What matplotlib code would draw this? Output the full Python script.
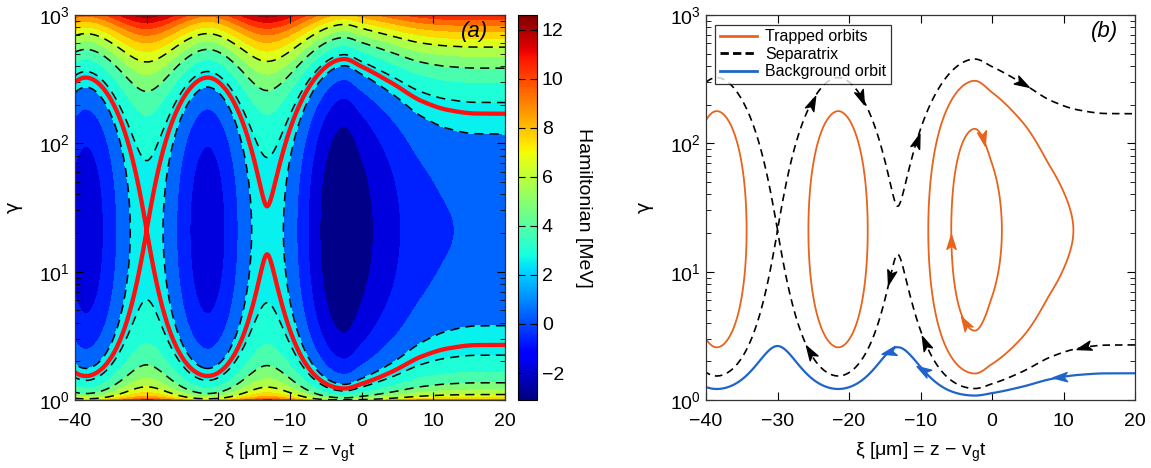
"""
Hamiltonian phase space of a wakefield bucket: (a) filled contours, (b) orbits
"""

import numpy as np
import matplotlib.pyplot as plt
from matplotlib.colors import Normalize
from matplotlib.cm import ScalarMappable
from matplotlib.markers import MarkerStyle
from matplotlib.path import Path
from matplotlib.transforms import Affine2D

plt.rcParams['font.family'] = ['Liberation Sans', 'DejaVu Sans']
plt.rcParams['mathtext.fontset'] = 'custom'
plt.rcParams['mathtext.rm'] = 'Liberation Sans'
plt.rcParams['mathtext.it'] = 'Liberation Sans:italic'

# ---- model values ----
gamma_p = 21.0              # wake phase Lorentz factor (X-points)
energy_scale = 10.0         # MeV per unit of normalised Hamiltonian
energy_offset = -0.38       # MeV
# wake potential (normalised) at its extrema / along the driver ramp
xi_knots = [-46.5, -38.5, -30.0, -21.5, -13.2, -2.4, 0.0, 4.0, 8.3, 12.0, 16.0, 25.0]
psi_knots = [-0.148, 0.175, -0.148, 0.175, -0.1435, 0.32, 0.255, 0.146, 0.05, 0.014, 0.001, 0.0]
xi_saddle = -30.0

fill_levels = [-4, -2, -1, 0, 1, 2, 3, 4, 5, 6, 7, 8, 9, 10, 11, 12, 13]
# position in the jet colour map of each filled band
band_fracs = [0.01, 0.085, 0.16, 0.225, 0.36, 0.39, 0.44, 0.5, 0.56, 0.62,
              0.68, 0.74, 0.80, 0.86, 0.92, 0.975]
dashed_levels = [1, 2, 4, 6]
trapped_levels = [-2.07, -0.08]
background_level = 3.1
cbar_range = (-3.1, 12.6)
cbar_ticks = [-2, 0, 2, 4, 6, 8, 10, 12]

# arrow heads: (curve, xi, gamma near the arrow)
arrows = [
    ('sep', -26.2, 172), ('sep', -17.1, 172), ('sep', -11.0, 112), ('sep', 5.0, 270),
    ('sep', -25.5, 2.16), ('sep', -14.5, 8.3), ('sep', -10.1, 2.83), ('sep', 13.4, 2.7),
    ('trap', -0.7, 106), ('trap', -6.6, 21), ('trap', -3.8, 3.7),
    ('bg', -15.2, 2.24), ('bg', -9.8, 1.57), ('bg', 10.9, 1.62),
]

orange = '#e8631c'
blue = '#1f65c9'


def pchip(xk, yk, x):
    xk = np.asarray(xk, float)
    yk = np.asarray(yk, float)
    h = np.diff(xk)
    d = np.diff(yk) / h
    m = np.zeros_like(yk)
    for i in range(1, len(xk) - 1):
        if d[i - 1] * d[i] > 0:
            w1 = 2 * h[i] + h[i - 1]
            w2 = h[i] + 2 * h[i - 1]
            m[i] = (w1 + w2) / (w1 / d[i - 1] + w2 / d[i])
    x = np.clip(x, xk[0], xk[-1])
    i = np.clip(np.searchsorted(xk, x) - 1, 0, len(h) - 1)
    t = (x - xk[i]) / h[i]
    return ((2 * t**3 - 3 * t**2 + 1) * yk[i] + (t**3 - 2 * t**2 + t) * h[i] * m[i]
            + (-2 * t**3 + 3 * t**2) * yk[i + 1] + (t**3 - t**2) * h[i] * m[i + 1])


beta_p = np.sqrt(1 - 1 / gamma_p**2)


def hamiltonian(xi, gam):
    kin = gam - beta_p * np.sqrt(gam**2 - 1)
    return energy_scale * (kin - pchip(xi_knots, psi_knots, xi)) + energy_offset


# separatrix: the contour through the X-point
separatrix_level = float(hamiltonian(np.array(xi_saddle), np.array(gamma_p)))

xi = np.linspace(-40, 20, 601)
gam = np.unique(np.concatenate([np.logspace(0, 3, 700), [gamma_p]]))
XI, G = np.meshgrid(xi, gam)
H = hamiltonian(XI, G)

fig = plt.figure(figsize=(11.51, 4.68), dpi=100)
W, Hf = 1151, 468
ax1 = fig.add_axes([75 / W, 1 - 400 / Hf, 430 / W, 385 / Hf])
cax = fig.add_axes([518 / W, 1 - 400 / Hf, 19 / W, 385 / Hf])
ax2 = fig.add_axes([706 / W, 1 - 400 / Hf, 429 / W, 385 / Hf])

norm = Normalize(*cbar_range)
cmap = plt.get_cmap('jet')

# ============ (a) ============
ax1.contourf(XI, G, H, levels=fill_levels, colors=[cmap(f) for f in band_fracs])
ax1.contour(XI, G, H, levels=dashed_levels, colors='k', linewidths=1.1,
            linestyles=[(0, (6, 4))])
ax1.contour(XI, G, H, levels=[separatrix_level], colors='#ff1010', linewidths=3.1)
ax1.text(0.96, 0.985, '(a)', transform=ax1.transAxes, ha='right', va='top',
         fontsize=16, style='italic')

cb = fig.colorbar(ScalarMappable(norm=norm, cmap=cmap), cax=cax, ticks=cbar_ticks)
cb.ax.tick_params(direction='in', length=5, labelsize=14, left=True, right=True)
cb.ax.set_yticklabels(['\u22122', '0', '2', '4', '6', '8', '10', '12'])
cb.outline.set_linewidth(0.8)
cb.set_label('Hamiltonian [MeV]', rotation=270, fontsize=14, labelpad=20)

# ============ (b) ============
cs_trap = ax2.contour(XI, G, H, levels=trapped_levels, colors=orange, linewidths=1.3,
                      linestyles='solid')
cs_sep = ax2.contour(XI, G, H, levels=[separatrix_level], colors='k', linewidths=1.2,
                     linestyles=[(0, (4.5, 3))])
low = gam < gamma_p
cs_bg = ax2.contour(XI[low], G[low], H[low], levels=[background_level],
                    colors=blue, linewidths=1.6)
ax2.text(0.96, 0.985, '(b)', transform=ax2.transAxes, ha='right', va='top',
         fontsize=16, style='italic')

ax2.plot([], [], color=orange, lw=2, label='Trapped orbits')
ax2.plot([], [], color='k', lw=2, ls=(0, (3, 1.5)), label='Separatrix')
ax2.plot([], [], color=blue, lw=2, label='Background orbit')
leg = ax2.legend(loc='upper left', bbox_to_anchor=(0.022, 0.975), fontsize=11.5,
                 frameon=True, fancybox=False, edgecolor='k', handlelength=2.3,
                 labelspacing=0.15, borderpad=0.3, handletextpad=0.5,
                 borderaxespad=0)
leg.get_frame().set_linewidth(0.9)

for ax in (ax1, ax2):
    ax.set_yscale('log')
    ax.set_xlim(-40, 20)
    ax.set_ylim(1, 1000)
    ax.set_xticks([-40, -30, -20, -10, 0, 10, 20])
    ax.set_xticklabels(['\u221240', '\u221230', '\u221220', '\u221210', '0', '10', '20'])
    ax.tick_params(which='both', direction='in', top=True, right=True, labelsize=14)
    ax.tick_params(which='major', length=6)
    ax.tick_params(which='minor', length=3.5)
    ax.tick_params(axis='x', pad=9)
    ax.set_xlabel('\u03be [\u03bcm] = z \u2212 v$_\\mathrm{g}$t', fontsize=14, labelpad=8)
    ax.set_ylabel('\u03b3', fontsize=14, labelpad=12, family='DejaVu Sans')
    for s in ax.spines.values():
        s.set_linewidth(0.9)
        s.set_color('#333333')

# arrow heads along the orbits, oriented with the Hamiltonian flow
fig.canvas.draw()
head = Path([(1, 0), (-0.9, 0.6), (-0.45, 0), (-0.9, -0.6), (1, 0)],
            [Path.MOVETO, Path.LINETO, Path.LINETO, Path.LINETO, Path.CLOSEPOLY])
curves = {'sep': (cs_sep, 'k'), 'trap': (cs_trap, orange), 'bg': (cs_bg, blue)}
for name, ax_xi, ax_g in arrows:
    cs, col = curves[name]
    target = ax2.transData.transform((ax_xi, ax_g))
    best = None
    for p in cs.get_paths():
        for poly in p.to_polygons(closed_only=False):
            if len(poly) < 3:
                continue
            disp = ax2.transData.transform(poly)
            dist = np.hypot(*(disp - target).T)
            k = int(np.argmin(dist))
            if best is None or dist[k] < best[0]:
                best = (dist[k], poly, disp, k)
    _, poly, disp, k = best
    k0, k1 = max(k - 2, 0), min(k + 2, len(poly) - 1)
    tang = disp[k1] - disp[k0]
    dxi, dg = poly[k1] - poly[k0]
    x0, g0 = poly[k]
    beta = np.sqrt(1 - 1 / g0**2)
    eps = 1e-3
    dpsi = (pchip(xi_knots, psi_knots, x0 + eps) - pchip(xi_knots, psi_knots, x0 - eps)) / (2 * eps)
    flow = np.array([beta - beta_p, beta * dpsi])
    if dxi * flow[0] / 60**2 + dg * flow[1] / g0**2 < 0:
        tang = -tang
    ang = np.degrees(np.arctan2(tang[1], tang[0]))
    ms = MarkerStyle(head, transform=Affine2D().rotate_deg(ang))
    ax2.plot([x0], [g0], marker=ms, ms=11, color=col, mec=col, ls='none')

fig.savefig('out.png', dpi=100, facecolor='white')
